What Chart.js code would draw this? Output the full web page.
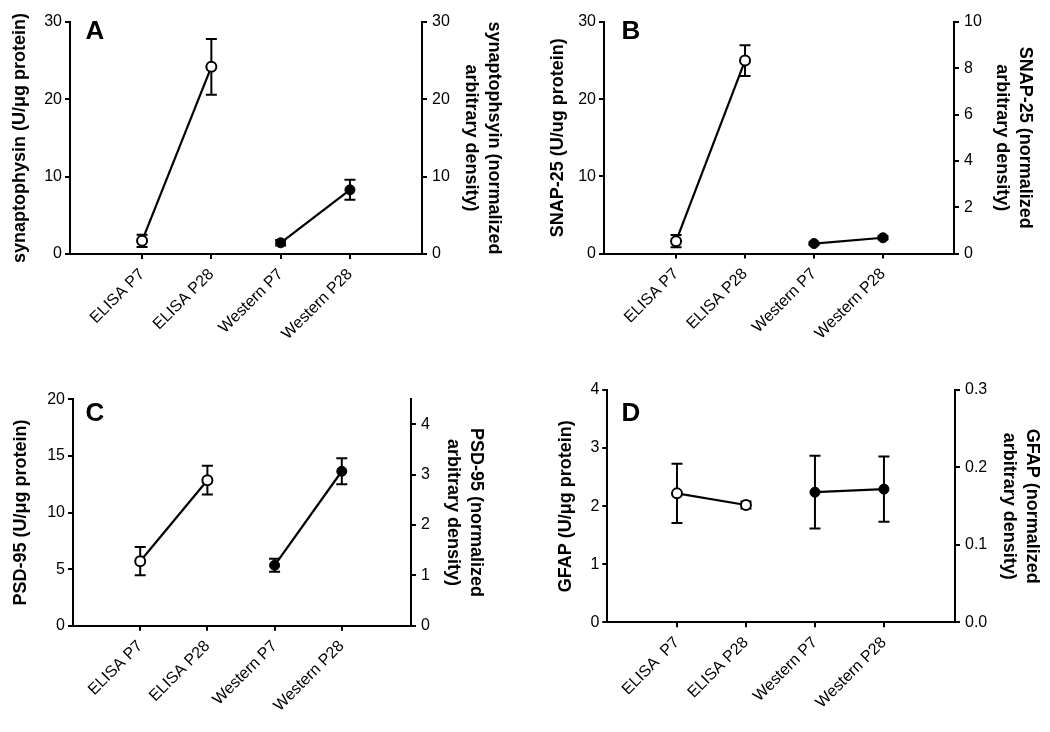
<!DOCTYPE html>
<html>
<head>
<meta charset="utf-8">
<script src="https://cdn.jsdelivr.net/npm/chart.js@4.4.1/dist/chart.umd.min.js"></script>
<style>
  html, body { margin: 0; padding: 0; background: #fff; }
  body { width: 1050px; height: 732px; position: relative; overflow: hidden; }
  .panel { position: absolute; }
</style>
</head>
<body>
<div class="panel" style="left:0;top:0;width:525px;height:365px"><canvas id="cA" width="525" height="365"></canvas></div>
<div class="panel" style="left:525px;top:0;width:525px;height:365px"><canvas id="cB" width="525" height="365"></canvas></div>
<div class="panel" style="left:0;top:365px;width:525px;height:367px"><canvas id="cC" width="525" height="367"></canvas></div>
<div class="panel" style="left:525px;top:365px;width:525px;height:367px"><canvas id="cD" width="525" height="367"></canvas></div>
<script>
// ---------------- data ----------------
const categoriesABC = ['ELISA P7', 'ELISA P28', 'Western P7', 'Western P28'];
const categoriesD = ['ELISA  P7', 'ELISA P28', 'Western P7', 'Western P28'];

// Panel A: synaptophysin
const aElisa = [1.7, 24.2];
const aElisaErr = [0.8, 3.6];
const aWestern = [1.45, 8.3];
const aWesternErr = [0.35, 1.3];
const aLeftTicks = ['0', '10', '20', '30'];
const aRightTicks = ['0', '10', '20', '30'];

// Panel B: SNAP-25
const bElisa = [1.6, 25.0];
const bElisaErr = [0.8, 2.0];
const bWestern = [0.43, 0.68];
const bWesternErr = [0.05, 0.06];
const bLeftTicks = ['0', '10', '20', '30'];
const bRightTicks = ['0', '2', '4', '6', '8', '10'];

// Panel C: PSD-95
const cElisa = [5.7, 12.85];
const cElisaErr = [1.25, 1.27];
const cWestern = [1.2, 3.07];
const cWesternErr = [0.13, 0.26];
const cLeftTicks = ['0', '5', '10', '15', '20'];
const cRightTicks = ['0', '1', '2', '3', '4'];

// Panel D: GFAP
const dElisa = [2.22, 2.02];
const dElisaErr = [0.51, 0.06];
const dWestern = [0.168, 0.172];
const dWesternErr = [0.047, 0.042];
const dLeftTicks = ['0', '1', '2', '3', '4'];
const dRightTicks = ['0.0', '0.1', '0.2', '0.3'];

// ---------------- drawing ----------------
const FONT = "'Liberation Sans', Arial, Helvetica, sans-serif";
Chart.defaults.font.family = FONT;
Chart.defaults.color = '#000';

const errorBarPlugin = {
  id: 'errorBars',
  beforeDatasetsDraw(chart) {
    const ctx = chart.ctx;
    const xs = chart.scales.x;
    ctx.save();
    ctx.strokeStyle = '#000';
    ctx.lineWidth = 2;
    chart.data.datasets.forEach(ds => {
      const ys = chart.scales[ds.yAxisID];
      ds.data.forEach((p, i) => {
        const e = ds.errors[i];
        const x = xs.getPixelForValue(p.x);
        const yt = ys.getPixelForValue(p.y + e);
        const yb = ys.getPixelForValue(p.y - e);
        const w = 5.5;
        ctx.beginPath();
        ctx.moveTo(x, yt); ctx.lineTo(x, yb);
        ctx.moveTo(x - w, yt); ctx.lineTo(x + w, yt);
        ctx.moveTo(x - w, yb); ctx.lineTo(x + w, yb);
        ctx.stroke();
      });
    });
    ctx.restore();
  }
};

const letterPlugin = {
  id: 'panelLetter',
  afterDraw(chart, args, opts) {
    const ctx = chart.ctx;
    ctx.save();
    ctx.font = 'bold 26px ' + FONT;
    ctx.fillStyle = '#000';
    ctx.textBaseline = 'alphabetic';
    ctx.textAlign = 'left';
    ctx.fillText(opts.text, opts.x, opts.y);
    ctx.restore();
  }
};

function tickSetter(labels) {
  return function (scale) {
    scale.ticks = labels.map(l => ({ value: parseFloat(l) }));
  };
}
function tickLabel(labels) {
  return function (value) {
    const hit = labels.find(l => parseFloat(l) === value);
    return hit !== undefined ? hit : '';
  };
}

function makePanel(id, g, cats, elisa, elisaErr, western, westernErr,
                   leftTicks, rightTicks, leftMax, rightMax, leftTitle, rightTitle, letter) {
  const canvas = document.getElementById(id);
  const W = canvas.width, H = canvas.height;
  const tickFont = { family: FONT, size: 16 };
  const titleFont = { family: FONT, size: 18, weight: 'bold', lineHeight: 1.3 };
  const axisCommon = {
    grid: { drawOnChartArea: false, drawTicks: true, tickLength: 5, color: '#000', lineWidth: 2 },
    border: { display: true, color: '#000', width: 2 }
  };
  return new Chart(canvas, {
    type: 'line',
    data: {
      datasets: [
        {
          label: 'ELISA',
          data: elisa.map((v, i) => ({ x: i, y: v })),
          errors: elisaErr,
          yAxisID: 'y',
          borderColor: '#000', borderWidth: 2.2,
          pointRadius: 5, pointBorderWidth: 2,
          pointBackgroundColor: '#fff', pointBorderColor: '#000',
          fill: false, tension: 0, clip: false
        },
        {
          label: 'Western',
          data: western.map((v, i) => ({ x: i + 2, y: v })),
          errors: westernErr,
          yAxisID: 'y1',
          borderColor: '#000', borderWidth: 2.2,
          pointRadius: 5, pointBorderWidth: 1,
          pointBackgroundColor: '#000', pointBorderColor: '#000',
          fill: false, tension: 0, clip: false
        }
      ]
    },
    options: {
      responsive: false,
      animation: false,
      events: [],
      layout: { padding: { left: g.padL, right: g.padR, top: g.top, bottom: 0 } },
      plugins: {
        legend: { display: false },
        tooltip: { enabled: false },
        panelLetter: { text: letter, x: g.letterX, y: g.letterY }
      },
      scales: {
        x: Object.assign({}, axisCommon, {
          type: 'linear',
          min: g.xmin, max: g.xmax,
          afterBuildTicks: s => { s.ticks = cats.map((c, i) => ({ value: i })); },
          afterFit: s => { s.height = H - g.bottom; },
          ticks: {
            callback: v => cats[v],
            minRotation: 45, maxRotation: 45, autoSkip: false,
            font: tickFont, color: '#000', padding: 6
          }
        }),
        y: Object.assign({}, axisCommon, {
          type: 'linear', position: 'left',
          min: 0, max: leftMax,
          afterBuildTicks: tickSetter(leftTicks),
          afterFit: s => { s.width = g.left - g.padL; },
          ticks: { callback: tickLabel(leftTicks), font: tickFont, color: '#000', padding: 3 },
          title: { display: true, text: leftTitle, font: titleFont, color: '#000', padding: 0 }
        }),
        y1: Object.assign({}, axisCommon, {
          type: 'linear', position: 'right',
          min: 0, max: rightMax,
          afterBuildTicks: tickSetter(rightTicks),
          afterFit: s => { s.width = (W - g.padR) - g.right; },
          ticks: { callback: tickLabel(rightTicks), font: tickFont, color: '#000', padding: 5 },
          title: { display: true, text: rightTitle, font: titleFont, color: '#000', padding: 0 }
        })
      }
    },
    plugins: [errorBarPlugin, letterPlugin]
  });
}

makePanel('cA',
  { padL: 8, padR: 19, left: 70, right: 422, top: 22, bottom: 254, xmin: -1.04, xmax: 4.04, letterX: 85.5, letterY: 38.5 },
  categoriesABC, aElisa, aElisaErr, aWestern, aWesternErr,
  aLeftTicks, aRightTicks, 30, 30,
  'synaptophysin (U/\u03bcg protein)',
  ['synaptophsyin (normalized', 'arbitrary density)'], 'A');

makePanel('cB',
  { padL: 21, padR: 13, left: 79, right: 429, top: 22, bottom: 253.5, xmin: -1.045, xmax: 4.03, letterX: 96.5, letterY: 38.5 },
  categoriesABC, bElisa, bElisaErr, bWestern, bWesternErr,
  bLeftTicks, bRightTicks, 30, 10,
  'SNAP-25 (U/ug protein)',
  ['SNAP-25 (normalized', 'arbitrary density)'], 'B');

makePanel('cC',
  { padL: 9, padR: 37, left: 73, right: 411, top: 34.3, bottom: 260.7, xmin: -1.0, xmax: 4.03, letterX: 85.5, letterY: 55.5 },
  categoriesABC, cElisa, cElisaErr, cWestern, cWesternErr,
  cLeftTicks, cRightTicks, 20, 4.5,
  'PSD-95 (U/\u03bcg protein)',
  ['PSD-95 (normalized', 'arbitrary density)'], 'C');

makePanel('cD',
  { padL: 29, padR: 6, left: 82.3, right: 430, top: 25, bottom: 257.3, xmin: -1.01, xmax: 4.03, letterX: 96.5, letterY: 55.5 },
  categoriesD, dElisa, dElisaErr, dWestern, dWesternErr,
  dLeftTicks, dRightTicks, 4, 0.3,
  'GFAP (U/\u03bcg protein)',
  ['GFAP (normalized', 'arbitrary density)'], 'D');
</script>
</body>
</html>
